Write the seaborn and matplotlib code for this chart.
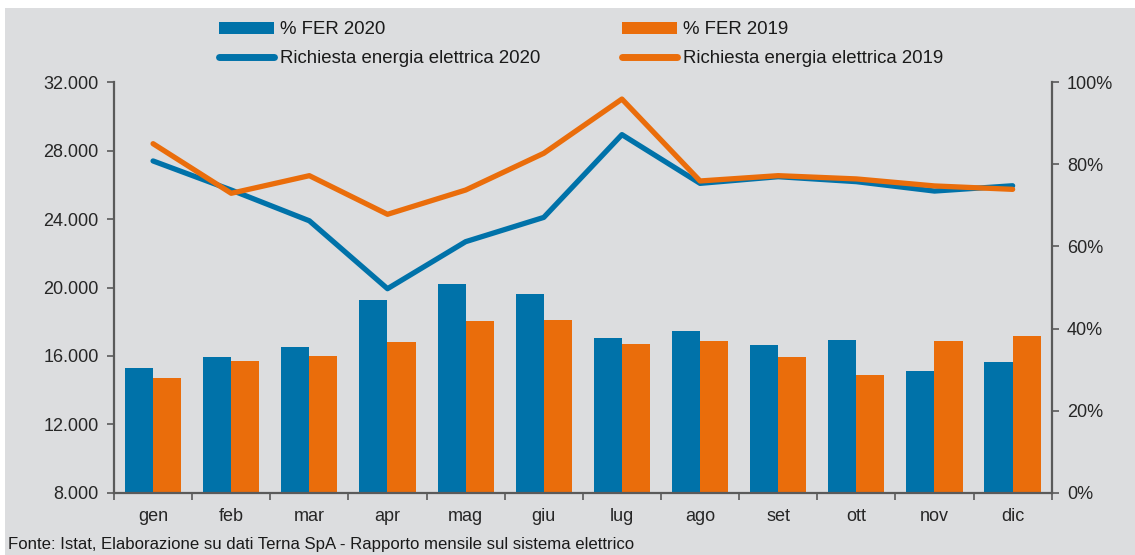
import matplotlib
matplotlib.use("Agg")
import matplotlib.pyplot as plt
import matplotlib.ticker as mticker
from matplotlib.patches import Patch, Rectangle
from matplotlib.lines import Line2D
import numpy as np
import pandas as pd
import seaborn as sns

# data
months = ['gen', 'feb', 'mar', 'apr', 'mag', 'giu', 'lug', 'ago', 'set', 'ott', 'nov', 'dic']
fer_2020 = [30.3, 33.1, 35.6, 47.0, 50.8, 48.4, 37.7, 39.5, 35.9, 37.1, 29.7, 31.8]
fer_2019 = [28.0, 32.1, 33.4, 36.8, 41.8, 42.0, 36.3, 37.0, 33.1, 28.7, 37.0, 38.3]
richiesta_2020 = [27400, 25700, 23900, 19930, 22680, 24100, 28940, 26090, 26480, 26190, 25640, 25950]
richiesta_2019 = [28410, 25510, 26540, 24280, 25700, 27850, 31020, 26230, 26540, 26350, 25940, 25740]

blue = '#0072A9'
orange = '#EA6D0B'
bg = '#DCDDDF'
axis_col = '#5A5A5A'

sns.set_style('white')
plt.rcParams['font.family'] = ['Liberation Sans', 'DejaVu Sans']
plt.rcParams['text.color'] = '#1A1A1A'

fig = plt.figure(figsize=(11.35, 5.55), dpi=100, facecolor='white')
fig.patches.append(Rectangle((5 / 1135, 0), 1, 1 - 8 / 555, transform=fig.transFigure,
                             facecolor=bg, edgecolor='none', zorder=-10))
ax = fig.add_axes([114 / 1135, 1 - 492.7 / 555, (1051.7 - 114) / 1135, (492.7 - 82.3) / 555])
ax.set_facecolor('none')

df = pd.DataFrame({
    'mese': months * 2,
    'anno': ['% FER 2020'] * 12 + ['% FER 2019'] * 12,
    'fer': fer_2020 + fer_2019,
})
sns.barplot(data=df, x='mese', y='fer', hue='anno', palette=[blue, orange],
            width=0.72, saturation=1, gap=0, ax=ax, legend=False, edgecolor='none')
ax.set_xlim(-0.5, 11.5)
ax.set_xlabel('')
ax.set_ylabel('')

# lines on a twin axis, which gets the left side
ax2 = ax.twinx()
pos = np.arange(len(months))
sns.lineplot(x=pos, y=richiesta_2020, color=blue, linewidth=3.8, ax=ax2,
             solid_capstyle='round', solid_joinstyle='round')
sns.lineplot(x=pos, y=richiesta_2019, color=orange, linewidth=3.8, ax=ax2,
             solid_capstyle='round', solid_joinstyle='round')
ax2.set_ylim(8000, 32000)
ax2.yaxis.set_major_locator(mticker.MultipleLocator(4000))
ax2.yaxis.set_major_formatter(mticker.FuncFormatter(lambda v, p: f'{int(v):,}'.replace(',', '.')))
ax2.set_xlim(-0.5, 11.5)

# bars -> right axis (set after twinx, which resets the sides)
ax.set_ylim(0, 100)
ax.yaxis.set_major_locator(mticker.MultipleLocator(20))
ax.yaxis.set_major_formatter(mticker.FuncFormatter(lambda v, p: f'{int(v)}%'))

for a in (ax, ax2):
    for s in a.spines.values():
        s.set_visible(False)
ax.spines['right'].set_visible(True)
ax.spines['bottom'].set_visible(True)
ax2.spines['left'].set_visible(True)
for s in (ax.spines['right'], ax.spines['bottom'], ax2.spines['left']):
    s.set_color(axis_col)
    s.set_linewidth(1.6)

ax.tick_params(axis='y', which='major', direction='out', length=5, width=1.2,
               color=axis_col, labelsize=13, pad=6, right=True, left=False,
               labelright=True, labelleft=False)
ax2.tick_params(axis='y', which='major', direction='out', length=5, width=1.2,
                color=axis_col, labelsize=13, pad=6, left=True, right=False,
                labelleft=True, labelright=False)
ax.set_xticks(pos)
ax.set_xticklabels(months)
ax.xaxis.set_minor_locator(mticker.FixedLocator(np.arange(-0.5, 12, 1)))
ax.tick_params(axis='x', which='major', length=0, labelsize=13, pad=11)
ax.tick_params(axis='x', which='minor', direction='out', length=5, width=1.2,
               color=axis_col, bottom=True)
ax2.tick_params(axis='x', bottom=False, labelbottom=False)

handles = [
    Patch(facecolor=blue, edgecolor='none', label='% FER 2020'),
    Line2D([0], [0], color=blue, linewidth=5, solid_capstyle='round',
           label='Richiesta energia elettrica 2020'),
    Patch(facecolor=orange, edgecolor='none', label='% FER 2019'),
    Line2D([0], [0], color=orange, linewidth=5, solid_capstyle='round',
           label='Richiesta energia elettrica 2019'),
]
fig.legend(handles=handles, ncol=2, loc='upper left', bbox_to_anchor=(210 / 1135, 1 - 12 / 555),
           frameon=False, fontsize=13.4, handlelength=2.95, handleheight=0.6,
           handletextpad=0.3, columnspacing=4.4, labelspacing=0.62, borderpad=0)

fig.text(8 / 1135, 1 - 544 / 555, 'Fonte: Istat, Elaborazione su dati Terna SpA - Rapporto mensile sul sistema elettrico',
         fontsize=12.1, va='center', ha='left', color='#1A1A1A')

fig.savefig('out.png', dpi=100, facecolor=fig.get_facecolor())
